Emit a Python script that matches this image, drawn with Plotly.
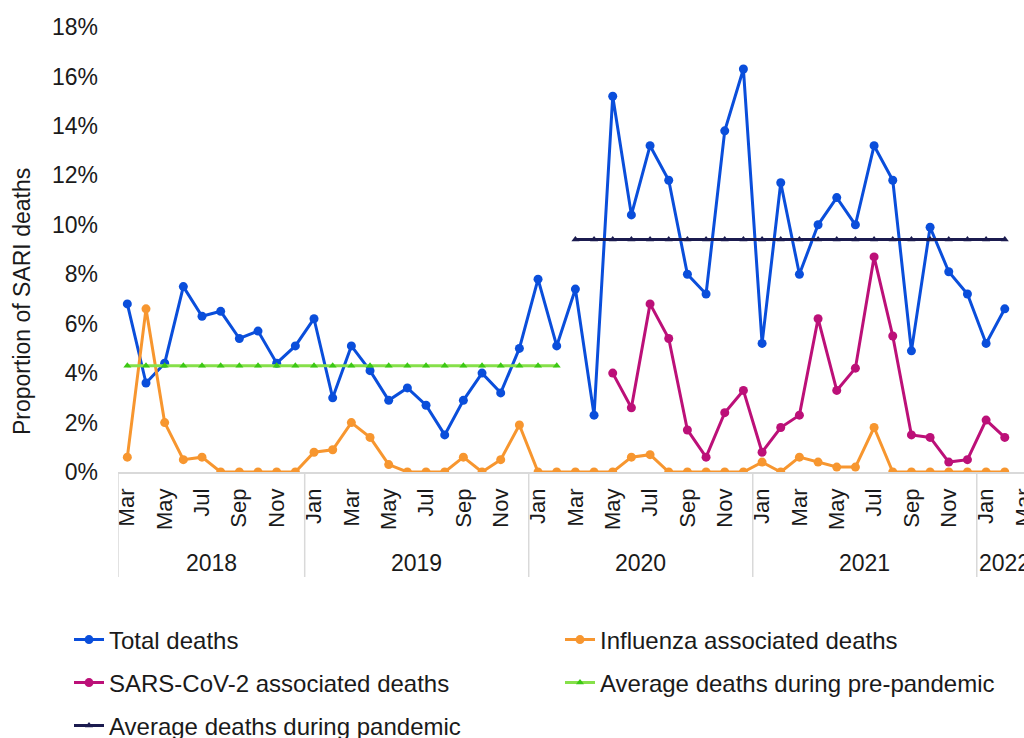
import pandas as pd
import plotly.graph_objects as go

# ---------------- data ----------------
months = [d.strftime("%Y-%m") for d in pd.date_range("2018-03-01", "2022-03-01", freq="MS")]
month_tick_vals = months[::2]
month_tick_text = ["Mar", "May", "Jul", "Sep", "Nov",
                   "Jan", "Mar", "May", "Jul", "Sep", "Nov",
                   "Jan", "Mar", "May", "Jul", "Sep", "Nov",
                   "Jan", "Mar", "May", "Jul", "Sep", "Nov",
                   "Jan", "Mar"]
years = ["2018", "2019", "2020", "2021", "2022"]

total_deaths = [6.8, 3.6, 4.4, 7.5, 6.3, 6.5, 5.4, 5.7, 4.4, 5.1,
                6.2, 3.0, 5.1, 4.1, 2.9, 3.4, 2.7, 1.5, 2.9, 4.0, 3.2, 5.0,
                7.8, 5.1, 7.4, 2.3, 15.2, 10.4, 13.2, 11.8, 8.0, 7.2, 13.8, 16.3,
                5.2, 11.7, 8.0, 10.0, 11.1, 10.0, 13.2, 11.8, 4.9, 9.9, 8.1, 7.2,
                5.2, 6.6]
influenza_deaths = [0.6, 6.6, 2.0, 0.5, 0.6, 0, 0, 0, 0, 0,
                    0.8, 0.9, 2.0, 1.4, 0.3, 0, 0, 0, 0.6, 0, 0.5, 1.9,
                    0, 0, 0, 0, 0, 0.6, 0.7, 0, 0, 0, 0, 0,
                    0.4, 0, 0.6, 0.4, 0.2, 0.2, 1.8, 0, 0, 0, 0, 0,
                    0, 0]
sars_months = months[26:48]
sars_deaths = [4.0, 2.6, 6.8, 5.4, 1.7, 0.6, 2.4, 3.3,
               0.8, 1.8, 2.3, 6.2, 3.3, 4.2, 8.7, 5.5, 1.5, 1.4, 0.4, 0.5,
               2.1, 1.4]
pre_months = months[0:24]
pre_avg = [4.3] * len(pre_months)
pan_months = months[24:48]
pan_avg = [9.4] * len(pan_months)

# ---------------- styles ----------------
BLUE = "#0A4EDB"
ORANGE = "#F7962F"
MAGENTA = "#BC1078"
GREEN = "#86E04A"
GREEN_M = "#3CC814"
NAVY = "#1B1B4F"
FONT = "Liberation Sans, Arial, sans-serif"
TXT = "#1a1a1a"

fig = go.Figure()
fig.add_trace(go.Scatter(x=months[:48], y=total_deaths, name="Total deaths",
                         mode="lines+markers", line=dict(color=BLUE, width=3),
                         marker=dict(symbol="circle", size=9, color=BLUE),
                         legend="legend", showlegend=True))
fig.add_trace(go.Scatter(x=months[:48], y=influenza_deaths, name="Influenza associated deaths",
                         mode="lines+markers", line=dict(color=ORANGE, width=3),
                         marker=dict(symbol="circle", size=9, color=ORANGE),
                         legend="legend2", showlegend=True))
fig.add_trace(go.Scatter(x=sars_months, y=sars_deaths, name="SARS-CoV-2 associated deaths",
                         mode="lines+markers", line=dict(color=MAGENTA, width=3),
                         marker=dict(symbol="circle", size=9, color=MAGENTA),
                         legend="legend3", showlegend=True))
fig.add_trace(go.Scatter(x=pre_months, y=pre_avg, name="Average deaths during pre-pandemic",
                         mode="lines+markers", line=dict(color=GREEN, width=3),
                         marker=dict(symbol="triangle-up", size=7, color=GREEN_M),
                         legend="legend4", showlegend=True))
fig.add_trace(go.Scatter(x=pan_months, y=pan_avg, name="Average deaths during pandemic",
                         mode="lines+markers", line=dict(color=NAVY, width=3),
                         marker=dict(symbol="triangle-up", size=7, color=NAVY),
                         legend="legend5", showlegend=True))

# year group boxes under the month labels
boundaries = [-0.5]
for i in range(1, len(months)):
    if months[i][:4] != months[i - 1][:4]:
        boundaries.append(i - 0.5)
boundaries.append(len(months) - 0.5)

PLOT_H = 445.0
PLOT_W = 906.0
shapes = []
annotations = []
for b in boundaries[:-1]:
    shapes.append(dict(type="line", xref="x", yref="paper", x0=b, x1=b,
                       y0=0, y1=-105 / PLOT_H, line=dict(color="#D9D9D9", width=1.5)))
for k, yr in enumerate(years):
    annotations.append(dict(text=yr, xref="x", yref="paper",
                            x=(boundaries[k] + boundaries[k + 1]) / 2, y=-91 / PLOT_H,
                            showarrow=False, font=dict(size=23, color=TXT, family=FONT),
                            xanchor="center", yanchor="middle"))
annotations.append(dict(text="Proportion of SARI deaths", xref="paper", yref="paper",
                        x=-96 / PLOT_W, y=(472 - 302) / PLOT_H, textangle=-90, showarrow=False,
                        font=dict(size=23, color=TXT, family=FONT),
                        xanchor="center", yanchor="middle"))

leg_common = dict(orientation="h", xref="container", yref="container",
                  xanchor="left", yanchor="middle", visible=True,
                  font=dict(size=24, color=TXT, family=FONT), bgcolor="rgba(0,0,0,0)",
                  itemclick=False)
COL1, COL2 = 69, 560
ROW1, ROW2, ROW3 = 640, 683, 726

fig.update_layout(
    width=1024, height=738,
    showlegend=True,
    margin=dict(l=118, r=0, t=27, b=266, autoexpand=False),
    paper_bgcolor="white", plot_bgcolor="white",
    font=dict(family=FONT, size=21, color=TXT),
    xaxis=dict(type="category", categoryorder="array", categoryarray=months,
               range=[-0.5, 48.03], tickmode="array", tickvals=month_tick_vals,
               ticktext=month_tick_text, tickangle=-90, ticks="", showgrid=False,
               showline=True, linecolor="#D9D9D9", linewidth=1.5, zeroline=False,
               automargin=False,
               tickfont=dict(size=22, color=TXT, family=FONT), ticklabelstandoff=6),
    yaxis=dict(range=[0, 18], tickvals=list(range(0, 19, 2)),
               ticktext=[f"{v}%" for v in range(0, 19, 2)], showgrid=False,
               zeroline=False, showline=False, ticks="", automargin=False,
               tickfont=dict(size=23, color=TXT, family=FONT), ticklabelstandoff=19),
    legend=dict(x=COL1 / 1024, y=1 - ROW1 / 738, **leg_common),
    legend2=dict(x=COL2 / 1024, y=1 - ROW1 / 738, **leg_common),
    legend3=dict(x=COL1 / 1024, y=1 - ROW2 / 738, **leg_common),
    legend4=dict(x=COL2 / 1024, y=1 - ROW2 / 738, **leg_common),
    legend5=dict(x=COL1 / 1024, y=1 - ROW3 / 738, **leg_common),
    shapes=shapes, annotations=annotations,
)

fig.write_html("out.html",
               config={"displayModeBar": False},
               post_script="document.body.style.margin='0';document.body.style.padding='0';"
                           "document.body.style.overflow='hidden';")
